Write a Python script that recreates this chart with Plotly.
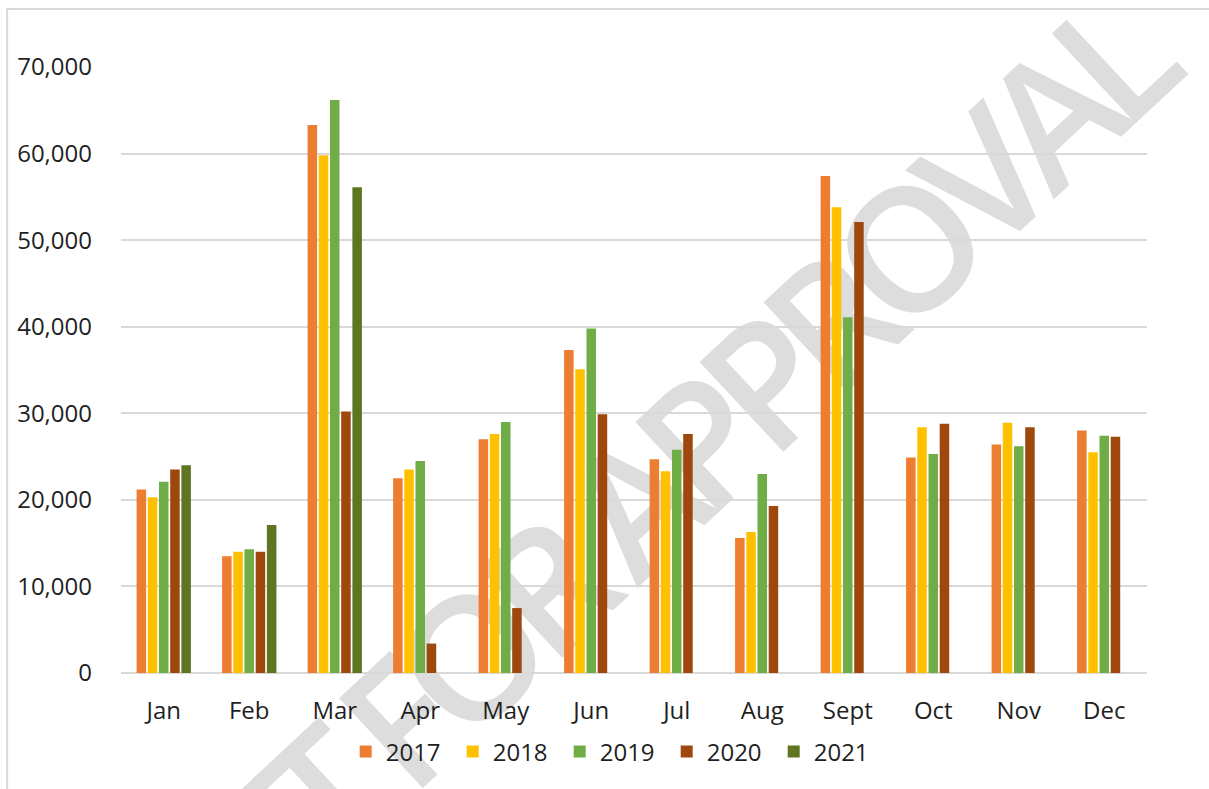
import plotly.graph_objects as go

months = ["Jan", "Feb", "Mar", "Apr", "May", "Jun", "Jul", "Aug", "Sept", "Oct", "Nov", "Dec"]
years = ["2017", "2018", "2019", "2020", "2021"]

v2017 = [21200, 13500, 63300, 22500, 27000, 37300, 24700, 15600, 57400, 24900, 26400, 28000]
v2018 = [20300, 14000, 59800, 23500, 27600, 35100, 23300, 16300, 53800, 28400, 28900, 25500]
v2019 = [22100, 14300, 66200, 24500, 29000, 39800, 25800, 23000, 41100, 25300, 26200, 27400]
v2020 = [23500, 14000, 30200, 3400, 7500, 29900, 27600, 19300, 52100, 28800, 28400, 27300]
v2021 = [24000, 17100, 56100]

y_ticks = [0, 10000, 20000, 30000, 40000, 50000, 60000, 70000]
y_tick_text = ["0", "10,000", "20,000", "30,000", "40,000", "50,000", "60,000", "70,000"]

colors = ["#ED7D31", "#FFC000", "#70AD47", "#9E480E", "#5E7521"]
watermark = "DRAFT FOR APPROVAL"

series = [v2017, v2018, v2019, v2020, v2021]

FONT = "Open Sans"
TXT = "#1F1F1F"

fig = go.Figure()
for name, vals, col in zip(years, series, colors):
    fig.add_trace(go.Bar(
        x=months[:len(vals)], y=vals, name=name,
        marker=dict(color=col, line=dict(width=0)),
        hoverinfo="x+y+name",
    ))

fig.update_layout(
    width=1209, height=789,
    margin=dict(l=121, r=62, t=67, b=116, pad=0),
    paper_bgcolor="white", plot_bgcolor="white",
    barmode="group", bargap=0.345, bargroupgap=0.15,
    font=dict(family=FONT, size=24, color=TXT),
    showlegend=True,
    legend=dict(
        orientation="h", x=0.219, xanchor="left", y=-0.13, yanchor="middle",
        font=dict(family=FONT, size=24, color=TXT),
        entrywidth=62, entrywidthmode="pixels",
        bgcolor="rgba(0,0,0,0)", traceorder="normal",
    ),
    xaxis=dict(
        type="category", categoryorder="array", categoryarray=months,
        showgrid=False, zeroline=False, showline=False, ticks="",
        tickfont=dict(family=FONT, size=24, color=TXT),
        ticklabelstandoff=21, fixedrange=True,
    ),
    yaxis=dict(
        range=[0, 70000], tickmode="array", tickvals=y_ticks, ticktext=y_tick_text,
        showgrid=True, gridcolor="#D9D9D9", gridwidth=2,
        zeroline=True, zerolinecolor="#D9D9D9", zerolinewidth=2,
        showline=False, ticks="",
        tickfont=dict(family=FONT, size=24, color=TXT),
        ticklabelstandoff=28, fixedrange=True,
    ),
    shapes=[
        dict(type="rect", xref="paper", yref="paper",
             x0=-0.111, x1=1.2, y0=-0.4, y1=1.0957,
             line=dict(color="#D9D9D9", width=2), fillcolor="rgba(0,0,0,0)",
             layer="below"),
        dict(type="rect", xref="paper", yref="paper",
             x0=0.401, x1=0.501, y0=0.132, y1=0.232,
             line=dict(width=0), fillcolor="rgba(0,0,0,0)", layer="below",
             label=dict(text="<span style='letter-spacing:-18px'>" + watermark + "</span>",
                        textangle=-43, textposition="middle center",
                        font=dict(family=FONT, size=172, color="#DDDDDD", weight=600))),
    ],
)

fig.write_html(
    "out.html",
    config={"displayModeBar": False},
    post_script="document.body.style.margin='0px';document.body.style.overflow='hidden';",
)
